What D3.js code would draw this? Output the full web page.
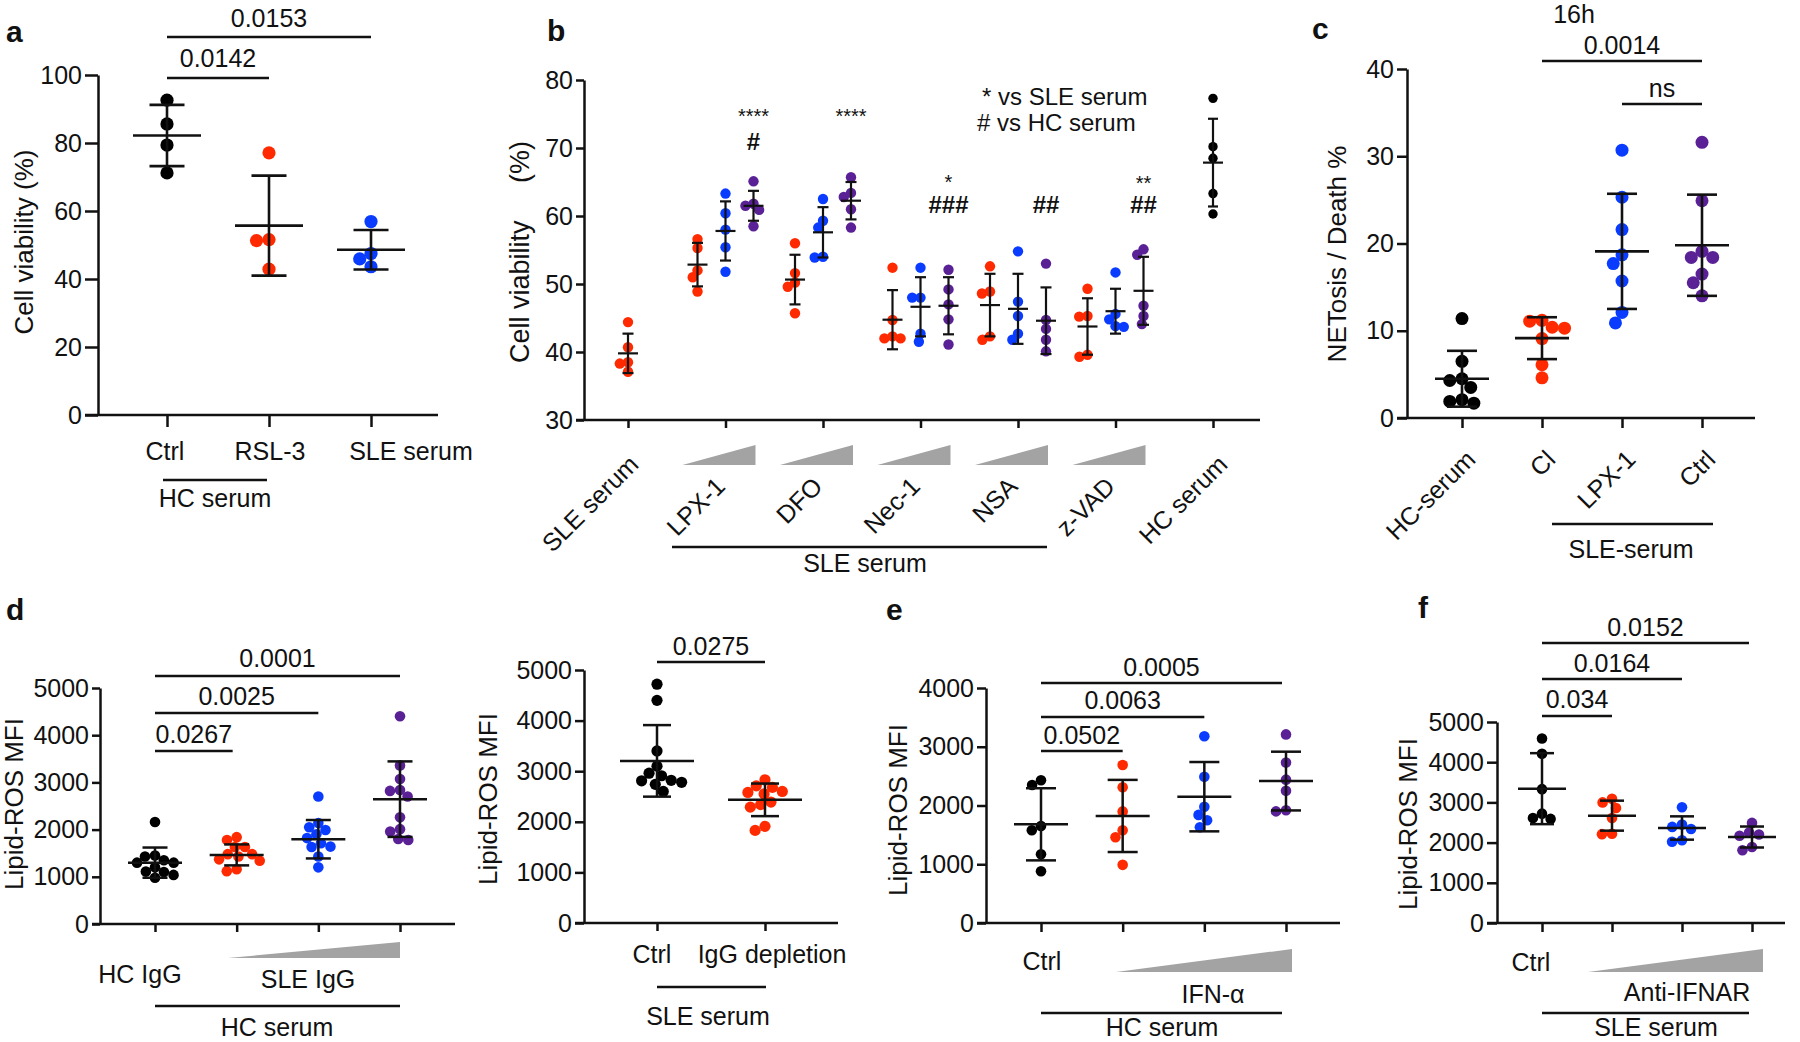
<!DOCTYPE html>
<html><head><meta charset="utf-8">
<script src="https://cdn.jsdelivr.net/npm/d3@7"></script>
<style>
body{margin:0;background:#fff}
svg{display:block;font-family:"Liberation Sans",Arial,Helvetica,sans-serif}
</style></head><body>
<svg id="fig" width="1800" height="1042"></svg>
<script>
// ---------------- DATA ----------------
// panel a
const aCategories = ["Ctrl", "RSL-3", "SLE serum"];
const aPoints = [[92.6, 85.6, 79.4, 71.2], [77.1, 51.6, 51.3, 42.9], [56.9, 47.5, 45.9, 43.6]];
const aMean = [82.2, 55.7, 48.6];
const aSD = [9.0, 14.7, 5.8];
const aTicks = [0, 20, 40, 60, 80, 100];
const aPvals = ["0.0142", "0.0153"];

// panel b
const bCategories = ["SLE serum", "LPX-1", "DFO", "Nec-1", "NSA", "z-VAD", "HC serum"];
const bDrugs = ["LPX-1", "DFO", "Nec-1", "NSA", "z-VAD"];
const bDoses = ["low", "mid", "high"];
const bSLE = [44.4, 40.7, 38.5, 38.3, 37.1];
const bSLEMean = 39.8, bSLESD = 2.9;
const bHC = [77.3, 70.2, 68.5, 63.3, 60.3];
const bHCMean = 67.85, bHCSD = 6.45;
const bLow = [[56.6, 55.3, 52.0, 51.0, 48.9], [56.0, 51.6, 50.2, 49.6, 45.7], [52.4, 44.7, 42.3, 42.0, 42.0], [52.6, 48.9, 48.6, 42.3, 41.8], [49.3, 45.3, 45.2, 39.6, 39.3]];
const bMid = [[63.3, 60.4, 58.0, 55.4, 51.8], [62.5, 59.3, 58.3, 54.0, 53.9], [52.4, 48.0, 48.0, 42.7, 41.5], [54.8, 47.4, 45.3, 42.7, 41.8], [51.7, 45.6, 44.8, 43.8, 43.7]];
const bHigh = [[65.1, 61.8, 61.5, 60.9, 58.5], [65.7, 63.4, 62.8, 61.0, 58.3], [52.1, 49.2, 47.0, 44.8, 41.1], [53.0, 44.7, 43.4, 41.8, 40.1], [55.1, 54.3, 46.8, 45.3, 44.1]];
const bLowMean = [52.85, 50.65, 44.75, 46.9, 43.75], bLowSD = [3.2, 3.65, 4.35, 4.6, 4.15];
const bMidMean = [57.8, 57.6, 46.65, 46.35, 46.0], bMidSD = [4.35, 3.7, 4.35, 5.15, 3.3];
const bHighMean = [61.5, 62.25, 46.8, 44.6, 49.0], bHighSD = [2.2, 2.75, 4.2, 4.9, 5.0];
const bStars = ["****", "****", "*", "", "**"];
const bHashes = ["#", "", "###", "##", "##"];
const bTicks = [30, 40, 50, 60, 70, 80];

// panel c
const cCategories = ["HC-serum", "Cl", "LPX-1", "Ctrl"];
const cPoints = [[11.4, 6.5, 4.5, 4.3, 3.5, 2.1, 1.9, 1.7], [11.2, 11.1, 10.4, 10.3, 9.1, 6.1, 4.6], [30.7, 25.3, 21.6, 18.7, 17.7, 15.7, 12.1, 10.9], [31.6, 24.9, 19.1, 18.4, 18.4, 16.5, 15.5, 14.0]];
const cMean = [4.5, 9.15, 19.1, 19.8];
const cSD = [3.2, 2.4, 6.6, 5.8];
const cTicks = [0, 10, 20, 30, 40];

// panel d (left)
const dCategories = ["HC IgG", "SLE IgG low", "SLE IgG mid", "SLE IgG high"];
const dPoints = [[2160, 1450, 1430, 1350, 1300, 1300, 1200, 1110, 1100, 1040, 980], [1840, 1780, 1630, 1630, 1480, 1480, 1430, 1370, 1340, 1160, 1120], [2700, 2140, 2050, 1990, 1900, 1820, 1710, 1640, 1630, 1430, 1200], [4400, 3360, 3070, 2840, 2820, 2700, 2260, 2010, 1960, 1800, 1780]];
const dMean = [1300, 1464, 1796, 2645];
const dSD = [320, 222, 407, 800];
const dPvals = ["0.0267", "0.0025", "0.0001"];
const dTicks = [0, 1000, 2000, 3000, 4000, 5000];

// panel d (right)
const d2Categories = ["Ctrl", "IgG depletion"];
const d2Points = [[4720, 4400, 3400, 3100, 2960, 2910, 2820, 2810, 2780, 2740, 2600], [2830, 2710, 2680, 2600, 2580, 2550, 2390, 2340, 2290, 1910, 1830]];
const d2Mean = [3204, 2434];
const d2SD = [707, 322];
const d2Pval = "0.0275";

// panel e
const eCategories = ["Ctrl", "IFN-α low", "IFN-α mid", "IFN-α high"];
const ePoints = [[2430, 2350, 1650, 1580, 1170, 880], [2690, 2310, 1900, 1580, 1460, 990], [3180, 2490, 1980, 1840, 1750, 1630], [3210, 2730, 2440, 2250, 1920, 1900]];
const eMean = [1680, 1822, 2150, 2416];
const eSD = [614, 614, 590, 500];
const ePvals = ["0.0502", "0.0063", "0.0005"];
const eTicks = [0, 1000, 2000, 3000, 4000];

// panel f
const fCategories = ["Ctrl", "Anti-IFNAR low", "Anti-IFNAR mid", "Anti-IFNAR high"];
const fPoints = [[4590, 4210, 3330, 2720, 2610, 2590], [3090, 3000, 2860, 2610, 2220, 2210], [2880, 2450, 2390, 2340, 2060, 2020], [2490, 2250, 2200, 2170, 1890, 1810]];
const fMean = [3342, 2670, 2363, 2139];
const fSD = [883, 373, 290, 261];
const fPvals = ["0.034", "0.0164", "0.0152"];
const fTicks = [0, 1000, 2000, 3000, 4000, 5000];

// ---------------- STYLE ----------------
const COL = {black: "#000000", red: "#ff2a00", blue: "#0a3cff", purple: "#5a2196"};
const INK = "#111";
const svg = d3.select("#fig");

function txt(x, y, s, o = {}) {
  const t = svg.append("text").attr("x", x).attr("y", y).text(s)
    .attr("font-size", o.size || 25).attr("text-anchor", o.anchor || "middle").attr("fill", INK);
  if (o.weight) t.attr("font-weight", o.weight);
  if (o.rotate != null) t.attr("transform", `rotate(${o.rotate},${x},${y})`);
  if (o.dy) t.attr("dy", o.dy);
  if (o.pre) t.style("white-space", "pre");
  return t;
}
function hline(x1, x2, y, w = 2.3) {
  svg.append("line").attr("x1", x1).attr("x2", x2).attr("y1", y).attr("y2", y)
    .attr("stroke", INK).attr("stroke-width", w);
}
function yAxis(y, ticks, x0, len) {
  const g = svg.append("g").attr("transform", `translate(${x0},0)`)
    .call(d3.axisLeft(y).tickValues(ticks).tickFormat(d3.format("d")).tickSize(len).tickSizeOuter(0).tickPadding(3));
  g.attr("font-size", 25).attr("font-family", null);
  g.selectAll("path,line").attr("stroke", INK).attr("stroke-width", 2.5);
  g.selectAll("text").attr("fill", INK);
}
function xAxis(x, y0, xStart, xEnd, len) {
  hline(xStart, xEnd, y0, 2.5);
  const g = svg.append("g").attr("transform", `translate(0,${y0})`)
    .call(d3.axisBottom(x).tickSize(len).tickFormat(""));
  g.select(".domain").remove();
  g.selectAll("line").attr("stroke", INK).attr("stroke-width", 2.5);
}
function swarm(ys, r, k = 0.9) {
  const d = 2 * r * k;
  const order = ys.map((_, i) => i).sort((a, b) => ys[a] - ys[b]);
  const placed = [], offs = new Array(ys.length).fill(0);
  for (const i of order) {
    const y = ys[i];
    const cands = [0];
    for (const p of placed) {
      const dy = Math.abs(p.y - y);
      if (dy < d) { const dx = Math.sqrt(d * d - dy * dy); cands.push(p.x - dx, p.x + dx); }
    }
    cands.sort((a, b) => Math.abs(a) - Math.abs(b) || a - b);
    let best = 0;
    for (const c of cands) {
      if (placed.every(p => (p.x - c) ** 2 + (p.y - y) ** 2 >= d * d - 1e-6)) { best = c; break; }
    }
    placed.push({x: best, y}); offs[i] = best;
  }
  return offs;
}
function dots(cx, vals, y, r, color, k) {
  const offs = swarm(vals.map(v => y(v)), r, k);
  svg.append("g").selectAll("circle").data(vals).join("circle")
    .attr("cx", (d, i) => cx + offs[i]).attr("cy", d => y(d)).attr("r", r).attr("fill", color);
}
function errBar(cx, mean, sd, y, hm, hc, w) {
  const g = svg.append("g").attr("stroke", INK).attr("stroke-width", w);
  g.append("line").attr("x1", cx).attr("x2", cx).attr("y1", y(mean - sd)).attr("y2", y(mean + sd));
  [mean - sd, mean + sd].forEach(v => g.append("line").attr("x1", cx - hc).attr("x2", cx + hc).attr("y1", y(v)).attr("y2", y(v)));
  g.append("line").attr("x1", cx - hm).attr("x2", cx + hm).attr("y1", y(mean)).attr("y2", y(mean));
}
function wedge(x1, x2, yb, yt) {
  svg.append("path").attr("d", `M${x1},${yb}L${x2},${yb}L${x2},${yt}Z`).attr("fill", "#a3a3a3");
}
function sig(x1, x2, yl, label, yt) { hline(x1, x2, yl); txt((x1 + x2) / 2, yt, label); }
function letter(x, y, s) { txt(x, y, s, {anchor: "start", size: 30, weight: "bold"}); }
function yTitle(x, y, s, size = 26) { txt(x, y, s, {rotate: -90, dy: "0.35em", size, pre: true}); }

// ---------------- PANEL a ----------------
{
  const x = d3.scalePoint().domain(aCategories).range([167, 371]);
  const y = d3.scaleLinear().domain([0, 100]).range([415, 75]);
  const cols = [COL.black, COL.red, COL.blue];
  aCategories.forEach((c, i) => dots(x(c), aPoints[i], y, 6.6, cols[i], 0.95));
  aCategories.forEach((c, i) => errBar(x(c), aMean[i], aSD[i], y, 34, 17.5, 2.6));
  yAxis(y, aTicks, 98, 13);
  xAxis(x, 415, 85, 438, 12);
  const dx = [-2, 1, 40];
  aCategories.forEach((c, i) => txt(x(c) + dx[i], 460, c));
  hline(163, 267, 480);
  txt(215, 507, "HC serum");
  sig(x(aCategories[0]), x(aCategories[1]), 78, aPvals[0], 67);
  sig(x(aCategories[0]), x(aCategories[2]), 37, aPvals[1], 27);
  yTitle(24, 242, "Cell viability (%)");
  letter(6, 42, "a");
}

// ---------------- PANEL b ----------------
{
  const x = d3.scalePoint().domain(bCategories).range([628, 1213]);
  const dose = d3.scalePoint().domain(bDoses).range([-28, 28]);
  const y = d3.scaleLinear().domain([30, 80]).range([420, 80]);
  const r = 5.2;
  dots(x("SLE serum"), bSLE, y, r, COL.red, 0.8);
  errBar(x("SLE serum"), bSLEMean, bSLESD, y, 10, 5.5, 2.2);
  const sets = [[bLow, bLowMean, bLowSD, COL.red], [bMid, bMidMean, bMidSD, COL.blue], [bHigh, bHighMean, bHighSD, COL.purple]];
  bDrugs.forEach((dName, i) => {
    sets.forEach(([pts, m, s, col], j) => {
      const cx = x(dName) + dose(bDoses[j]);
      dots(cx, pts[i], y, r, col, 0.8);
      errBar(cx, m[i], s[i], y, 10, 5.5, 2.2);
    });
  });
  dots(x("HC serum"), bHC, y, 4.7, COL.black, 0.8);
  errBar(x("HC serum"), bHCMean, bHCSD, y, 10, 5, 2.2);
  yAxis(y, bTicks, 584, 8);
  xAxis(x, 420, 576, 1260, 8);
  // wedges + labels
  bDrugs.forEach(dName => {
    wedge(x(dName) - 43, x(dName) + 30, 465, 445);
    txt(x(dName) + 1, 488, dName, {anchor: "end", rotate: -45});
  });
  txt(x("SLE serum") + 12, 466, "SLE serum", {anchor: "end", rotate: -45});
  txt(x("HC serum") + 16, 466, "HC serum", {anchor: "end", rotate: -45});
  hline(672, 1047, 547);
  txt(865, 572, "SLE serum");
  // significance marks
  const starY = [123, 123, 189, 189, 190], hashY = [150, 150, 213, 213, 213];
  bDrugs.forEach((dName, i) => {
    const cx = x(dName) + dose("high");
    if (bStars[i]) txt(cx, starY[i], bStars[i], {size: 20});
    if (bHashes[i]) txt(cx, hashY[i], bHashes[i], {size: 24, weight: "bold"});
  });
  txt(982, 105, "* vs SLE serum", {anchor: "start", size: 24});
  txt(977, 131, "# vs HC serum", {anchor: "start", size: 24});
  yTitle(520, 252, "Cell viability     (%)", 27);
  letter(547, 41, "b");
}

// ---------------- PANEL c ----------------
{
  const x = d3.scalePoint().domain(cCategories).range([1462, 1702]);
  const y = d3.scaleLinear().domain([0, 40]).range([418, 69]);
  const cols = [COL.black, COL.red, COL.blue, COL.purple];
  cCategories.forEach((c, i) => dots(x(c), cPoints[i], y, 6.5, cols[i], 0.95));
  cCategories.forEach((c, i) => errBar(x(c), cMean[i], cSD[i], y, 27, 15, 2.6));
  yAxis(y, cTicks, 1407, 10);
  xAxis(x, 418, 1397, 1755, 10);
  cCategories.forEach(c => txt(x(c) + 15, 461, c, {anchor: "end", rotate: -45}));
  hline(1552, 1713, 524);
  txt(1631, 558, "SLE-serum");
  txt(1574, 23, "16h");
  sig(x("Cl"), x("Ctrl"), 61, "0.0014", 54);
  sig(x("LPX-1"), x("Ctrl"), 104, "ns", 97);
  yTitle(1337, 254, "NETosis / Death %");
  letter(1312, 39, "c");
}

// ---------------- PANEL d ----------------
{
  const x = d3.scalePoint().domain(dCategories).range([155, 400]);
  const y = d3.scaleLinear().domain([0, 5000]).range([924, 688]);
  const cols = [COL.black, COL.red, COL.blue, COL.purple];
  dCategories.forEach((c, i) => dots(x(c), dPoints[i], y, 5.3, cols[i], 0.95));
  dCategories.forEach((c, i) => errBar(x(c), dMean[i], dSD[i], y, 27, 12.5, 2.5));
  yAxis(y, dTicks, 100, 8);
  xAxis(x, 924, 92, 455, 8);
  wedge(228, 400, 958, 942);
  txt(140, 983, "HC IgG");
  txt(308, 988, "SLE IgG");
  hline(155, 400, 1006);
  txt(277, 1036, "HC serum");
  sig(x(dCategories[0]), x(dCategories[1]) - 4, 751, dPvals[0], 743);
  sig(x(dCategories[0]), x(dCategories[2]), 713, dPvals[1], 705);
  sig(x(dCategories[0]), x(dCategories[3]), 676, dPvals[2], 667);
  yTitle(14, 804, "Lipid-ROS MFI");
  letter(6, 620, "d");
}
{
  const x = d3.scalePoint().domain(d2Categories).range([657, 765]);
  const y = d3.scaleLinear().domain([0, 5000]).range([923, 670]);
  const cols = [COL.black, COL.red];
  d2Categories.forEach((c, i) => dots(x(c), d2Points[i], y, 5.6, cols[i], 0.95));
  d2Categories.forEach((c, i) => errBar(x(c), d2Mean[i], d2SD[i], y, 37, 14, 2.5));
  yAxis(y, dTicks, 584, 9);
  xAxis(x, 923, 575, 838, 8);
  txt(652, 963, "Ctrl");
  txt(772, 963, "IgG depletion");
  hline(657, 766, 987);
  txt(708, 1025, "SLE serum");
  sig(x(d2Categories[0]), x(d2Categories[1]), 662, d2Pval, 655);
  yTitle(488, 799, "Lipid-ROS MFI");
}

// ---------------- PANEL e ----------------
{
  const x = d3.scalePoint().domain(eCategories).range([1041, 1286]);
  const y = d3.scaleLinear().domain([0, 4000]).range([923, 688]);
  const cols = [COL.black, COL.red, COL.blue, COL.purple];
  eCategories.forEach((c, i) => dots(x(c), ePoints[i], y, 5.3, cols[i], 0.95));
  eCategories.forEach((c, i) => errBar(x(c), eMean[i], eSD[i], y, 27, 15, 2.5));
  yAxis(y, eTicks, 986, 9);
  xAxis(x, 923, 977, 1340, 9);
  wedge(1116, 1292, 972, 949);
  txt(1042, 970, "Ctrl");
  txt(1213, 1003, "IFN-α");
  hline(1041, 1282, 1013);
  txt(1162, 1036, "HC serum");
  sig(x(eCategories[0]), x(eCategories[1]), 751, ePvals[0], 744);
  sig(x(eCategories[0]), x(eCategories[2]), 717, ePvals[1], 709);
  sig(x(eCategories[0]), x(eCategories[3]) - 4, 683, ePvals[2], 676);
  yTitle(898, 810, "Lipid-ROS MFI");
  letter(886, 620, "e");
}

// ---------------- PANEL f ----------------
{
  const x = d3.scalePoint().domain(fCategories).range([1542, 1752]);
  const y = d3.scaleLinear().domain([0, 5000]).range([923, 722]);
  const cols = [COL.black, COL.red, COL.blue, COL.purple];
  fCategories.forEach((c, i) => dots(x(c), fPoints[i], y, 5.3, cols[i], 0.95));
  fCategories.forEach((c, i) => errBar(x(c), fMean[i], fSD[i], y, 24, 12, 2.5));
  yAxis(y, fTicks, 1497, 10);
  xAxis(x, 923, 1487, 1785, 9);
  wedge(1588, 1763, 972, 949);
  txt(1531, 971, "Ctrl");
  txt(1687, 1001, "Anti-IFNAR");
  hline(1542, 1749, 1013);
  txt(1656, 1036, "SLE serum");
  sig(x(fCategories[0]), x(fCategories[1]), 716, fPvals[0], 708);
  sig(x(fCategories[0]), x(fCategories[2]), 679, fPvals[1], 672);
  sig(x(fCategories[0]), x(fCategories[3]) - 3, 643, fPvals[2], 636);
  yTitle(1408, 824, "Lipid-ROS MFI");
  letter(1418, 618, "f");
}
</script>
</body></html>
